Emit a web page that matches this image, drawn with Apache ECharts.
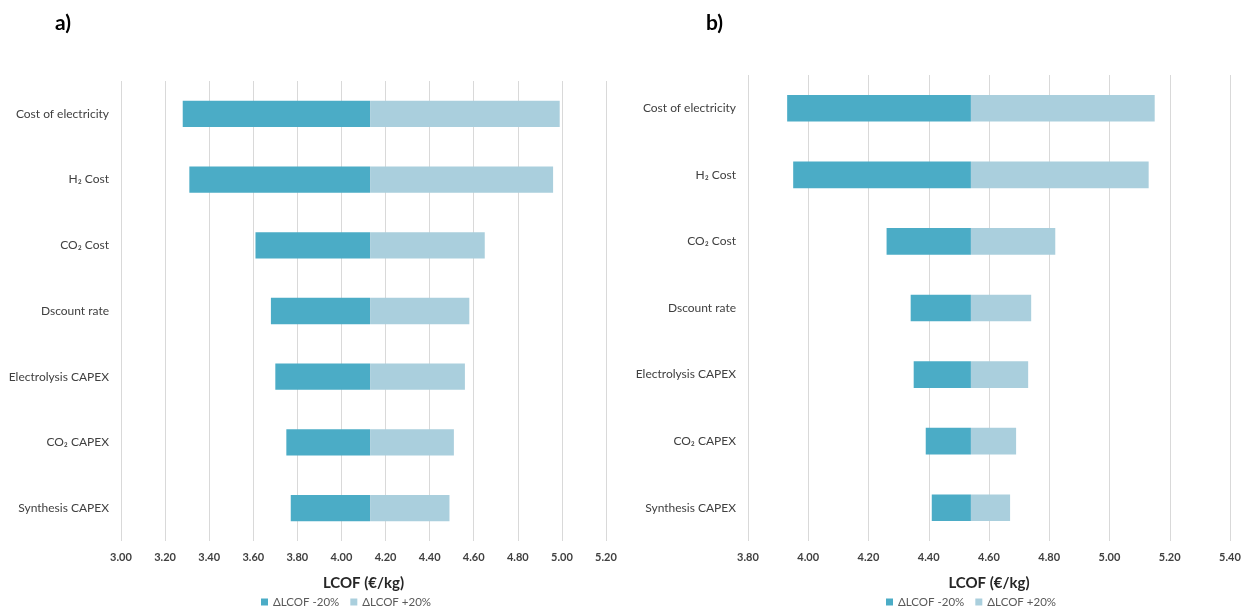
<!DOCTYPE html>
<html>
<head>
<meta charset="utf-8">
<script src="https://cdn.jsdelivr.net/npm/echarts@6/dist/echarts.min.js"></script>
<style>
  html, body { margin: 0; padding: 0; background: #fff; }
  #chart { width: 1251px; height: 609px; }
</style>
</head>
<body>
<div id="chart"></div>
<script>
// Sensitivity parameters (top to bottom)
const categories = ['Cost of electricity', 'H₂ Cost', 'CO₂ Cost', 'Dscount rate', 'Electrolysis CAPEX', 'CO₂ CAPEX', 'Synthesis CAPEX'];

// Panel a) LCOF in €/kg
const baseA = 4.13;
const lowA  = [3.28, 3.31, 3.61, 3.68, 3.70, 3.75, 3.77];   // parameter -20%
const highA = [4.99, 4.96, 4.65, 4.58, 4.56, 4.51, 4.49];   // parameter +20%

// Panel b) LCOF in €/kg
const baseB = 4.54;
const lowB  = [3.93, 3.95, 4.26, 4.34, 4.35, 4.39, 4.41];
const highB = [5.15, 5.13, 4.82, 4.74, 4.73, 4.69, 4.67];

const seriesNames = ['ΔLCOF -20%', 'ΔLCOF +20%'];
const colors = ['#4BACC6', '#AACFDD'];

const FONT = 'Lato, "Open Sans", sans-serif';

function xAxis(gridIndex, min, max) {
  return {
    type: 'value', gridIndex, min, max, interval: 0.2,
    name: 'LCOF (€/kg)', nameLocation: 'middle', nameGap: 35,
    nameTextStyle: { fontFamily: FONT, fontSize: 15, fontWeight: 'bold', color: '#262626' },
    axisLine: { show: false },
    axisTick: { show: false },
    splitLine: { show: true, lineStyle: { color: '#d9d9d9', width: 1 } },
    axisLabel: {
      margin: 11, fontFamily: FONT, fontSize: 11, fontWeight: 'bold', color: '#404040',
      formatter: v => v.toFixed(2)
    }
  };
}

function yAxis(gridIndex) {
  return {
    type: 'category', gridIndex, data: categories, inverse: true,
    axisLine: { show: false }, axisTick: { show: false },
    axisLabel: { margin: 12, fontFamily: FONT, fontSize: 12, color: '#404040' }
  };
}

function tornado(idx, base, low, high) {
  const stack = 's' + idx;
  return [
    { type: 'bar', name: 'offset', xAxisIndex: idx, yAxisIndex: idx, stack, silent: true,
      barWidth: '40%', itemStyle: { color: 'transparent' }, data: low },
    { type: 'bar', name: seriesNames[0], xAxisIndex: idx, yAxisIndex: idx, stack,
      barWidth: '40%', itemStyle: { color: colors[0] },
      data: low.map(v => +(base - v).toFixed(4)) },
    { type: 'bar', name: seriesNames[1], xAxisIndex: idx, yAxisIndex: idx, stack,
      barWidth: '40%', itemStyle: { color: colors[1] },
      data: high.map(v => +(v - base).toFixed(4)) }
  ];
}

function legend(leftX) {
  return {
    data: seriesNames, top: 591, left: leftX, icon: 'rect', padding: 5,
    itemWidth: 7, itemHeight: 7, itemGap: 11, selectedMode: false,
    textStyle: { fontFamily: FONT, fontSize: 11.5, color: '#595959' }
  };
}

const chart = echarts.init(document.getElementById('chart'), null, { renderer: 'canvas' });
chart.setOption({
  animation: false,
  backgroundColor: '#ffffff',
  title: [
    { text: 'a)', left: 50, top: 8, textStyle: { fontFamily: FONT, fontSize: 21, fontWeight: 'bold', color: '#000' } },
    { text: 'b)', left: 701, top: 8, textStyle: { fontFamily: FONT, fontSize: 21, fontWeight: 'bold', color: '#000' } }
  ],
  legend: [legend(256), legend(881)],
  grid: [
    { left: 121, width: 485, top: 81, height: 460 },
    { left: 748, width: 482, top: 75, height: 466 }
  ],
  xAxis: [xAxis(0, 3.0, 5.2), xAxis(1, 3.8, 5.4)],
  yAxis: [yAxis(0), yAxis(1)],
  series: [...tornado(0, baseA, lowA, highA), ...tornado(1, baseB, lowB, highB)]
});
</script>
</body>
</html>
